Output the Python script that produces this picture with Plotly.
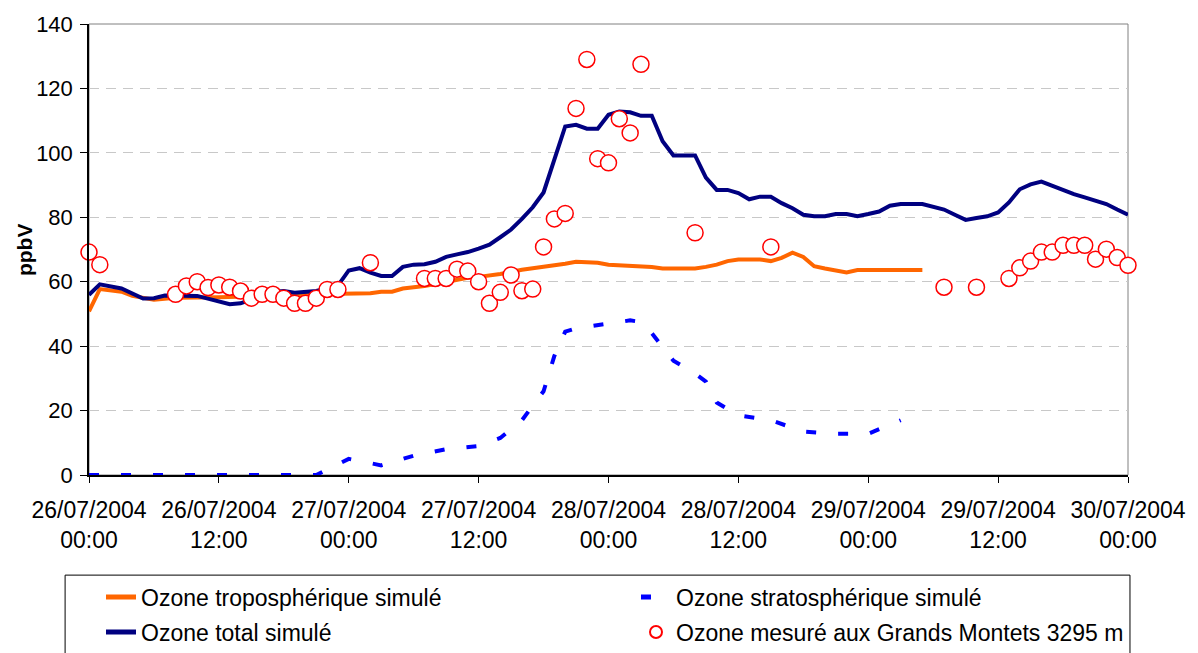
import pandas as pd
import plotly.graph_objects as go

START = pd.Timestamp("2004-07-26 00:00")

# Simulated tropospheric ozone (hours after START, ppbV)
tropo_hours = [0, 1, 3, 4, 6, 8, 12, 14, 18, 22,
               24, 26, 27, 28, 29, 30, 31, 32, 33, 34,
               35, 36, 37, 38, 40, 41, 42, 43, 44, 45,
               46, 47, 48, 49, 50, 51, 52, 53, 56, 57,
               58, 59, 60, 62, 63, 64, 65, 66, 67, 68,
               69, 70, 71, 77]
tropo_values = [50.8, 57.7, 56.9, 55.6, 54.4, 55.0, 55.2, 55.3, 55.7, 56.2,
                56.4, 56.4, 56.9, 56.9, 57.9, 58.2, 58.7, 59.3, 60.0, 60.6,
                61.2, 61.5, 61.9, 62.4, 63.7, 64.1, 64.6, 65.1, 65.6, 66.2,
                66.2, 65.9, 65.3, 65.1, 65.1, 64.6, 64.6, 64.1, 64.1, 64.6,
                65.3, 66.4, 66.9, 66.9, 66.4, 67.4, 69.0, 67.7, 64.8, 64.1,
                63.6, 62.9, 63.6, 63.6]

# Simulated stratospheric ozone
strato_hours = [0, 21, 24, 27, 30, 33, 36, 38, 40, 42,
                43, 44, 45, 47, 50, 51, 52, 54, 56, 57,
                58, 60, 63, 66, 69, 72, 75]
strato_values = [0, 0, 5.0, 3.0, 6.0, 8.0, 9.0, 11.5, 17.0, 26.0,
                 37.0, 44.5, 45.5, 46.5, 48.0, 47.5, 44.0, 35.5, 31.5, 29.0,
                 22.5, 18.5, 17.0, 13.5, 12.8, 12.8, 17.0]

# Simulated total ozone
total_hours = [0, 1, 3, 5, 6, 7, 10, 12, 13, 14,
               16, 17, 18, 19, 21, 23, 24, 25, 26, 27,
               28, 29, 30, 31, 32, 33, 34, 35, 36, 37,
               38, 39, 40, 41, 42, 43, 44, 45, 46, 47,
               48, 49, 50, 51, 52, 53, 54, 56, 57, 58,
               59, 60, 61, 62, 63, 64, 65, 66, 67, 68,
               69, 70, 71, 72, 73, 74, 75, 77, 78, 79,
               80, 81, 82, 83, 84, 85, 86, 87, 88, 89,
               90, 91, 92, 93, 94, 95, 96]
total_values = [55.9, 59.2, 57.9, 54.8, 54.9, 55.7, 55.6, 53.8, 53.0, 53.3,
                55.5, 56.8, 57.1, 56.6, 57.1, 58.8, 63.5, 64.2, 62.8, 61.8,
                61.8, 64.6, 65.3, 65.4, 66.2, 67.7, 68.5, 69.2, 70.3, 71.5,
                73.8, 76.2, 79.5, 83.1, 87.7, 97.9, 108.2, 108.7, 107.5, 107.5,
                111.8, 112.8, 112.6, 111.5, 111.5, 103.6, 99.2, 99.2, 92.3, 88.5,
                88.5, 87.5, 85.6, 86.4, 86.4, 84.4, 82.8, 80.8, 80.3, 80.3,
                81.0, 81.0, 80.3, 81.0, 81.8, 83.6, 84.1, 84.1, 83.1, 82.4,
                80.8, 79.2, 79.8, 80.3, 81.5, 84.6, 88.7, 90.2, 91.1, 89.7,
                88.5, 87.2, 86.2, 85.1, 84.1, 82.4, 80.8]

# Ozone measured at Grands Montets (hourly)
meas_hours = [0, 1, 8, 9, 10, 11, 12, 13, 14, 15,
              16, 17, 18, 19, 20, 21, 22, 23, 26, 31,
              32, 33, 34, 35, 36, 37, 38, 39, 40, 41,
              42, 43, 44, 45, 46, 47, 48, 49, 50, 51,
              56, 63, 79, 82, 85, 86, 87, 88, 89, 90,
              91, 92, 93, 94, 95, 96]
meas_values = [69.2, 65.3, 56.1, 58.7, 60.0, 58.2, 59.0, 58.3, 57.1, 54.9,
               56.1, 56.1, 54.9, 53.3, 53.3, 54.9, 57.6, 57.6, 65.9, 61.0,
               61.0, 61.0, 63.9, 63.3, 60.0, 53.3, 56.7, 62.1, 57.2, 57.7,
               70.8, 79.5, 81.2, 113.8, 129.0, 98.2, 96.9, 110.6, 106.2, 127.5,
               75.2, 70.8, 58.3, 58.3, 61.0, 64.3, 66.4, 69.2, 69.2, 71.3,
               71.3, 71.3, 67.0, 70.1, 67.5, 65.1]

y_ticks = [0, 20, 40, 60, 80, 100, 120, 140]

FONT = "Liberation Sans, Arial, sans-serif"
W, H = 1198, 653


def to_time(hours):
    return [START + pd.Timedelta(hours=h) for h in hours]


tick_times = list(pd.date_range(START, periods=9, freq="12h"))
tick_text = [t.strftime("%d/%m/%Y<br>%H:%M") for t in tick_times]

fig = go.Figure()

# legend boxes: two columns x two rows below the plot
fig.add_trace(go.Scatter(
    x=to_time(tropo_hours), y=tropo_values, mode="lines",
    name="Ozone troposphérique simulé",
    line=dict(color="#FF6600", width=4), legend="legend",
))
fig.add_trace(go.Scatter(
    x=to_time(strato_hours), y=strato_values, mode="lines",
    name="Ozone stratosphérique simulé",
    line=dict(color="#0000FF", width=4, dash="10px,22px"), legend="legend2",
))
fig.add_trace(go.Scatter(
    x=to_time(total_hours), y=total_values, mode="lines",
    name="Ozone total simulé",
    line=dict(color="#000080", width=4), legend="legend3",
))
fig.add_trace(go.Scatter(
    x=to_time(meas_hours), y=meas_values, mode="markers",
    name="Ozone mesuré aux Grands Montets 3295 m",
    marker=dict(symbol="circle", size=16, color="white",
                line=dict(color="#FF0000", width=1.5)),
    cliponaxis=False, legend="legend4",
))

# plot-area frame (grey), axes drawn over it in black
fig.add_shape(type="rect", xref="paper", yref="paper", x0=0, x1=1, y0=0, y1=1,
              line=dict(color="#808080", width=1), layer="below")
# legend frame, running past the bottom edge
fig.add_shape(type="rect", xref="paper", yref="paper",
              x0=-0.023, x1=1.0019, y0=-0.222, y1=-0.50,
              line=dict(color="black", width=1), layer="below")

fig.add_annotation(
    text="<b>ppbV</b>", xref="paper", yref="paper", x=-0.062, y=0.5,
    textangle=-90, showarrow=False, font=dict(family=FONT, size=21, color="black"),
    xanchor="center", yanchor="middle",
)

fig.update_xaxes(
    type="date",
    range=[START, START + pd.Timedelta(hours=96)],
    tickvals=tick_times, ticktext=tick_text,
    showgrid=False, zeroline=False,
    showline=True, linecolor="black", linewidth=1.5,
    ticks="outside", ticklen=6, tickcolor="black", ticklabelstandoff=8,
    tickfont=dict(family=FONT, size=23, color="black"),
)
fig.update_yaxes(
    range=[0, 140], tickvals=y_ticks,
    showgrid=True, gridcolor="#C8C8C8", gridwidth=1, griddash="10px,7px",
    zeroline=False,
    showline=True, linecolor="black", linewidth=1.5,
    ticks="outside", ticklen=7, tickcolor="black", ticklabelstandoff=3,
    tickfont=dict(family=FONT, size=22, color="black"),
)

legend_style = dict(
    orientation="h", xref="container", yref="container",
    xanchor="left", yanchor="middle",
    font=dict(family=FONT, size=23, color="black"),
    bgcolor="rgba(0,0,0,0)", borderwidth=0,
    itemsizing="constant",
)
col_x = [101 / W, 636 / W]
row_y = [1 - 597 / H, 1 - 632 / H]

fig.update_layout(
    width=W, height=H, autosize=False,
    margin=dict(l=89, r=66, t=20, b=178),
    plot_bgcolor="white", paper_bgcolor="white",
    font=dict(family=FONT, color="black"),
    showlegend=True,
    legend=dict(legend_style, x=col_x[0], y=row_y[0]),
    legend2=dict(legend_style, x=col_x[1], y=row_y[0]),
    legend3=dict(legend_style, x=col_x[0], y=row_y[1]),
    legend4=dict(legend_style, x=col_x[1], y=row_y[1]),
)

fig.write_html("out.html")
